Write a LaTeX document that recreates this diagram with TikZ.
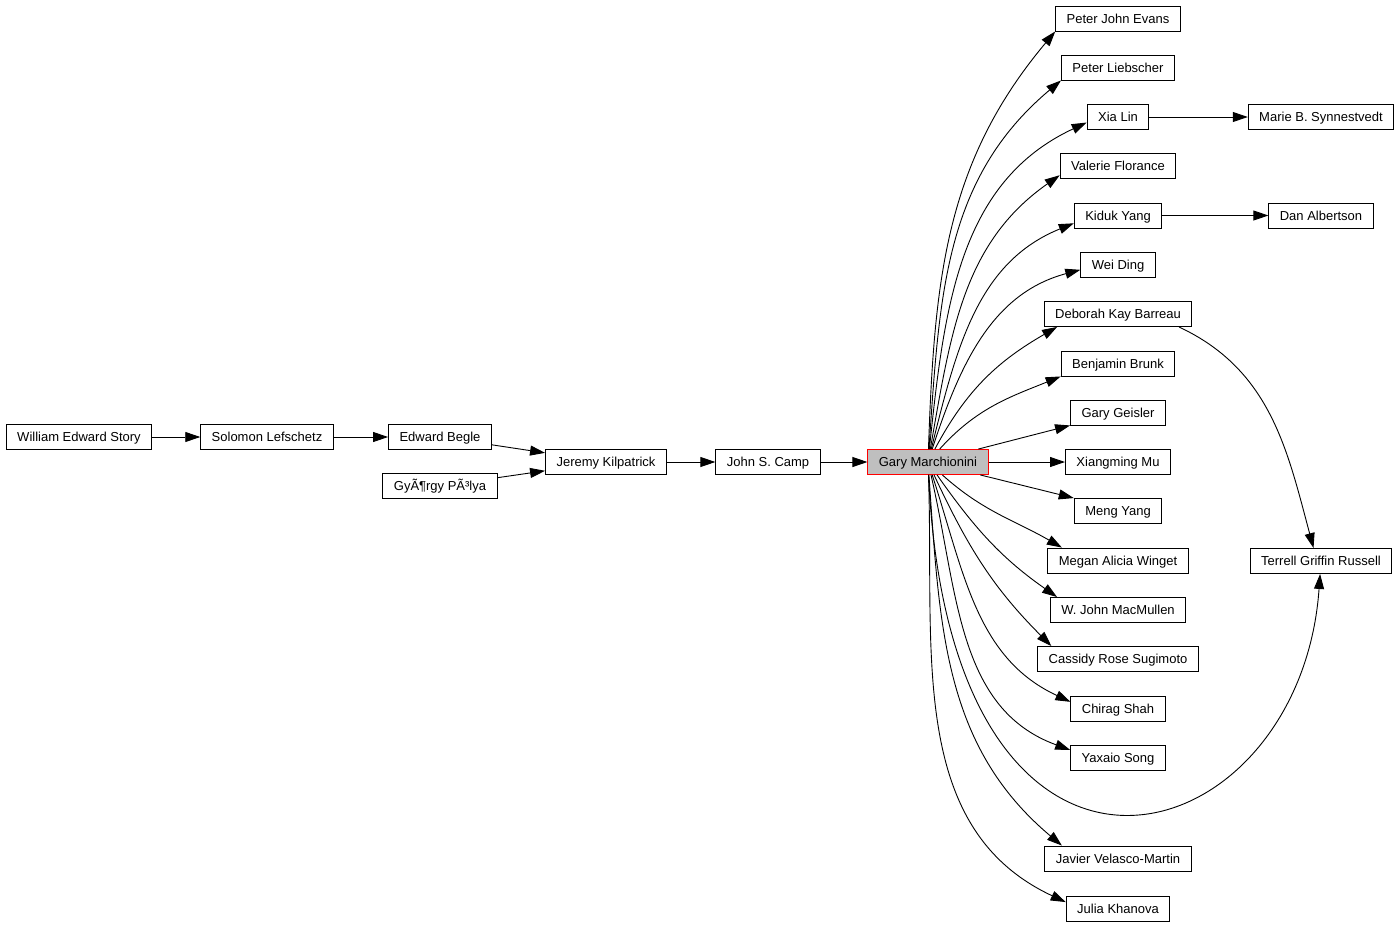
\documentclass[tikz,border=0pt]{standalone}
\usepackage{fontspec}
\setmainfont{Liberation Sans}
\usetikzlibrary{arrows.meta}
\usetikzlibrary{positioning}
\tikzstyle{person}=[rectangle,draw=black,line width=0.9pt,fill=white,minimum height=25pt,inner xsep=11pt,inner ysep=0pt,text height=10.5pt,text depth=1.2pt,font=\fontsize{13pt}{15pt}\selectfont]
\tikzstyle{advisor}=[person,draw=red,fill=black!25]
\tikzstyle{edge} = [draw,line width=0.9pt,-{Triangle[length=15pt,width=10pt]}]

\begin{document}
\begin{tikzpicture}[x=1pt,y=1pt]
    \useasboundingbox (0,0) rectangle (1400,-927);

    % ancestors
    \foreach \pos/\name/\label in {{(79,-437)/story/William Edward Story}, {(267,-437)/lefschetz/Solomon Lefschetz}, {(440,-437)/begle/Edward Begle}, {(440,-486)/polya/GyÃ¶rgy PÃ³lya}, {(606,-462)/kilpatrick/Jeremy Kilpatrick}, {(768,-462)/camp/John S. Camp}}
        \node[person] (\name) at \pos {\label};

    \node[advisor] (marchionini) at (928,-462) {Gary Marchionini};

    % students
    \foreach \pos/\name/\label in {{(1118,-18.5)/evans/Peter John Evans}, {(1118,-67.5)/liebscher/Peter Liebscher}, {(1118,-117)/xialin/Xia Lin}, {(1118,-166)/florance/Valerie Florance}, {(1118,-215.5)/kyang/Kiduk Yang}, {(1118,-264.5)/ding/Wei Ding}, {(1118,-314)/barreau/Deborah Kay Barreau}, {(1118,-363.5)/brunk/Benjamin Brunk}, {(1118,-412.5)/geisler/Gary Geisler}, {(1118,-462)/mu/Xiangming Mu}, {(1118,-511)/myang/Meng Yang}, {(1118,-560.5)/winget/Megan Alicia Winget}, {(1118,-610)/macmullen/W. John MacMullen}, {(1118,-659)/sugimoto/Cassidy Rose Sugimoto}, {(1118,-708.5)/shah/Chirag Shah}, {(1118,-757.5)/song/Yaxaio Song}, {(1118,-858.5)/velasco/Javier Velasco-Martin}, {(1118,-908.5)/khanova/Julia Khanova}}
        \node[person] (\name) at \pos {\label};

    \foreach \pos/\name/\label in {{(1321,-117)/synnestvedt/Marie B. Synnestvedt}, {(1321,-215.5)/albertson/Dan Albertson}, {(1321,-561)/russell/Terrell Griffin Russell}}
        \node[person] (\name) at \pos {\label};

    \foreach \source/\dest in {story/lefschetz, lefschetz/begle, begle/kilpatrick, polya/kilpatrick, kilpatrick/camp, camp/marchionini, xialin/synnestvedt, kyang/albertson}
        \path[edge] (\source) -- (\dest);

    \path[edge] (marchionini) -- (geisler.south west);
    \path[edge] (marchionini) -- (mu);
    \path[edge] (marchionini) -- (myang.north west);

    \foreach \dest/\o/\i/\a in {evans/88/230/south west, liebscher/86/220/south west, xialin/84/205/190, florance/80/215/189, kyang/76/202/190, ding/72/195/188, barreau/62/210/192, brunk/48/202/south west, winget/-42/150/167, macmullen/-55/145/168, sugimoto/-65/135/169, shah/-72/155/172, song/-77/160/171, velasco/-86/140/167, khanova/-88/155/173}
        \path[edge] (marchionini) to[out=\o,in=\i] (\dest.\a);

    \path[edge] (marchionini) .. controls (950,-960) and (1300,-860) .. (russell);
    \path[edge] (barreau.-12) to[out=-25,in=105] (russell.120);
\end{tikzpicture}
\end{document}
